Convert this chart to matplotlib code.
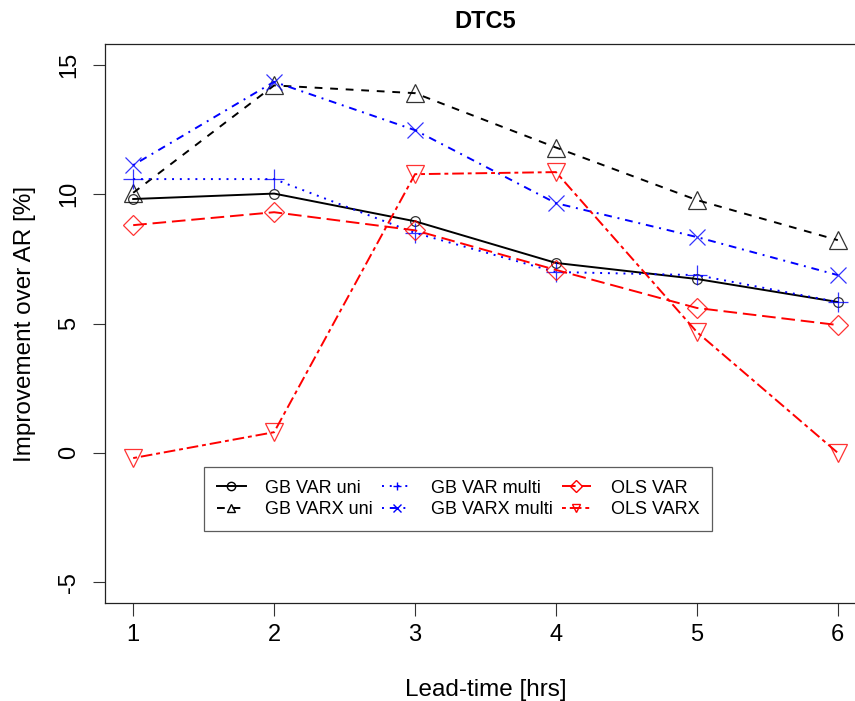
import matplotlib
matplotlib.use("Agg")
import matplotlib.pyplot as plt
from matplotlib.lines import Line2D

plt.rcParams["font.family"] = ["Liberation Sans", "DejaVu Sans"]
plt.rcParams["axes.unicode_minus"] = False

lead_time = [1, 2, 3, 4, 5, 6]

gb_var_uni = [9.81, 10.02, 8.95, 7.34, 6.72, 5.83]
gb_varx_uni = [10.05, 14.2, 13.9, 11.8, 9.77, 8.22]
gb_var_multi = [10.58, 10.58, 8.5, 6.99, 6.87, 5.83]
gb_varx_multi = [11.12, 14.34, 12.47, 9.65, 8.34, 6.87]
ols_var = [8.8, 9.3, 8.6, 7.07, 5.6, 4.94]
ols_varx = [-0.2, 0.8, 10.77, 10.85, 4.67, 0.0]

labels = ["GB VAR uni", "GB VARX uni", "GB VAR multi",
          "GB VARX multi", "OLS VAR", "OLS VARX"]

# R-style line types (lty 1..6) and point characters (pch 1..6)
styles = [
    dict(color="black", ls="-", marker="o", ms=7),
    dict(color="black", ls=(0, (4, 4)), marker="^", ms=13),
    dict(color="blue", ls=(0, (1, 3)), marker="+", ms=15),
    dict(color="blue", ls=(0, (1, 3, 4, 3)), marker="x", ms=11),
    dict(color="red", ls=(0, (7, 3)), marker="D", ms=10),
    dict(color="red", ls=(0, (2, 2, 6, 2)), marker="v", ms=13),
]
series = [gb_var_uni, gb_varx_uni, gb_var_multi, gb_varx_multi, ols_var, ols_varx]
LW = 1.4

fig = plt.figure(figsize=(8.55, 7.01), dpi=100)
ax = fig.add_axes([105 / 855, 98 / 701, 761 / 855, 559 / 701])

for vals, st in zip(series, styles):
    ax.plot(lead_time, vals, color=st["color"], ls=st["ls"], lw=LW)
    ax.plot(lead_time, vals, ls="none", marker=st["marker"], ms=st["ms"],
            mfc="none", mec=st["color"], mew=0.9, alpha=0.8)

ax.set_xlim(0.8, 6.2)
ax.set_ylim(-5.8, 15.8)
ax.set_xticks(lead_time)
ax.set_yticks([-5, 0, 5, 10, 15])
ax.tick_params(labelsize=17, length=9, width=0.8, color="#333333")
ax.tick_params(axis="x", pad=6)
ax.tick_params(axis="y", pad=9)
for lab in ax.get_yticklabels():
    lab.set_rotation(90)
    lab.set_va("center")
for sp in ax.spines.values():
    sp.set_linewidth(0.9)
    sp.set_color("#222222")

ax.set_xlabel("Lead-time [hrs]", fontsize=17.5, labelpad=24)
ax.set_ylabel("Improvement over AR [%]", fontsize=17.5, labelpad=16)
fig.text(485 / 855, 1 - 21 / 701, "DTC5", ha="center", va="center",
         fontsize=17, fontweight="bold")

handles = []
for st in styles:
    handles.append(Line2D([], [], color=st["color"], ls=st["ls"], lw=LW,
                          marker=st["marker"], ms=6, mfc="none", mew=1.0))
leg = ax.legend(handles, labels, ncol=3, loc="upper left",
                bbox_to_anchor=((204 - 105) / 761, (603 - 467) / 559),
                fontsize=13, frameon=True, fancybox=False, edgecolor="#333333",
                borderpad=0.7, borderaxespad=0, handlelength=1.6,
                columnspacing=0.5, handletextpad=1.1, labelspacing=0.25)
leg.get_frame().set_linewidth(0.9)

fig.savefig("out.png", dpi=100)
